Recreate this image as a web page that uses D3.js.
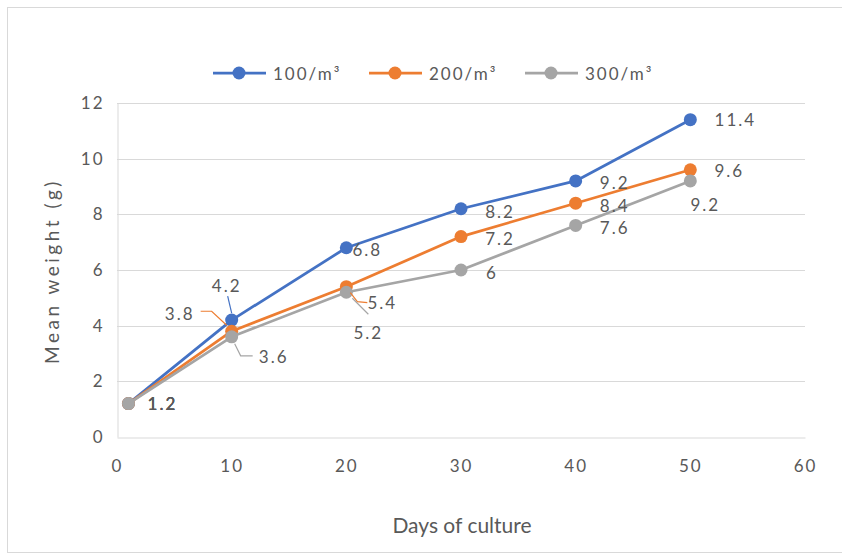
<!DOCTYPE html>
<html>
<head>
<meta charset="utf-8">
<script src="https://cdn.jsdelivr.net/npm/d3@7"></script>
<style>
  html, body { margin: 0; padding: 0; background: #fff; }
  svg { display: block; font-family: Lato, "Open Sans", sans-serif; }
</style>
</head>
<body>
<svg id="chart" width="842" height="555"></svg>
<script>
// ---- data ----
const days = [1, 10, 20, 30, 40, 50];
const seriesNames = ["100/m³", "200/m³", "300/m³"];
const s100 = [1.2, 4.2, 6.8, 8.2, 9.2, 11.4];
const s200 = [1.2, 3.8, 5.4, 7.2, 8.4, 9.6];
const s300 = [1.2, 3.6, 5.2, 6, 7.6, 9.2];
const xTicks = [0, 10, 20, 30, 40, 50, 60];
const yTicks = [0, 2, 4, 6, 8, 10, 12];
const xTitle = "Days of culture";
const yTitle = "Mean weight (g)";

// ---- styles / layout ----
const colors = ["#4472C4", "#ED7D31", "#A5A5A5"];
// label offsets (px, relative to the point) and optional leader polylines
const labelLayout = [
  [ {dx:34,dy:0}, {dx:-5,dy:-35, leader:[[-4,-24],[0,-7]]}, {dx:21,dy:2}, {dx:39,dy:3}, {dx:39,dy:2}, {dx:45,dy:0} ],
  [ {dx:34,dy:0}, {dx:-52,dy:-18, leader:[[-31,-20],[-20,-20],[-5,-6]]}, {dx:36,dy:16, leader:[[21,16],[11,15],[4,6]]}, {dx:39,dy:2}, {dx:39,dy:2}, {dx:39,dy:1} ],
  [ {dx:34,dy:0}, {dx:42,dy:20, leader:[[21,19],[9,19],[3,7]]}, {dx:22,dy:40, leader:[[22,22],[6,6]]}, {dx:31,dy:2}, {dx:39,dy:2}, {dx:15,dy:24} ]
];
const labelSpacing = 2;

const svg = d3.select("#chart");
const x = d3.scaleLinear().domain([0, 60]).range([117, 805]);
const y = d3.scaleLinear().domain([0, 12]).range([437, 103]);
const textColor = "#595959";

// outer frame
svg.append("rect").attr("x", 7.5).attr("y", 7.5).attr("width", 850).attr("height", 545)
  .attr("fill", "none").attr("stroke", "#d9d9d9").attr("stroke-width", 1);

// gridlines
svg.append("g").selectAll("line").data(yTicks.filter(d => d > 0)).join("line")
  .attr("x1", x(0)).attr("x2", x(60))
  .attr("y1", d => Math.round(y(d)) + 0.5).attr("y2", d => Math.round(y(d)) + 0.5)
  .attr("stroke", "#d9d9d9").attr("stroke-width", 1);

// axes
const xAxis = svg.append("g").attr("transform", `translate(0,${Math.round(y(0)) + 0.5})`)
  .call(d3.axisBottom(x).tickValues(xTicks).tickSize(0).tickPadding(22).tickFormat(d3.format("d")));
const yAxis = svg.append("g").attr("transform", `translate(${Math.round(x(0)) + 0.5},0)`)
  .call(d3.axisLeft(y).tickValues(yTicks).tickSize(0).tickPadding(13).tickFormat(d3.format("d")));
[xAxis, yAxis].forEach(g => {
  g.select(".domain").attr("stroke", "#d9d9d9");
  g.selectAll("text").attr("fill", textColor).attr("font-size", 17)
    .attr("letter-spacing", labelSpacing).attr("font-family", "Lato, sans-serif");
});

// axis titles
svg.append("text").attr("x", 462).attr("y", 533).attr("text-anchor", "middle")
  .attr("font-size", 21).attr("fill", textColor).text(xTitle);
svg.append("text").attr("transform", "translate(59,271) rotate(-90)").attr("text-anchor", "middle")
  .attr("font-size", 19).attr("letter-spacing", 3.5).attr("fill", textColor).text(yTitle);

// series
const allSeries = [s100, s200, s300];
const line = d3.line().x(d => x(d[0])).y(d => y(d[1]));
allSeries.forEach((vals, i) => {
  const pts = days.map((d, j) => [d, vals[j]]);
  svg.append("path").datum(pts).attr("d", line)
    .attr("fill", "none").attr("stroke", colors[i]).attr("stroke-width", 2.75).attr("stroke-linejoin", "round");
  svg.append("g").selectAll("circle").data(pts).join("circle")
    .attr("cx", d => x(d[0])).attr("cy", d => y(d[1])).attr("r", 6.5)
    .attr("fill", colors[i]);
});

// data labels and leaders
allSeries.forEach((vals, i) => {
  const g = svg.append("g");
  days.forEach((d, j) => {
    const px = x(d), py = y(vals[j]);
    const lay = labelLayout[i][j];
    if (lay.leader) {
      g.append("path")
        .attr("d", d3.line()(lay.leader.map(p => [px + p[0], py + p[1]])))
        .attr("fill", "none").attr("stroke", colors[i]).attr("stroke-width", 1.2);
    }
    g.append("text").attr("x", px + lay.dx).attr("y", py + lay.dy)
      .attr("text-anchor", "middle").attr("dominant-baseline", "central")
      .attr("letter-spacing", labelSpacing)
      .attr("font-size", 17).attr("fill", textColor).text(vals[j]);
  });
});

// legend
const legendX = [213, 369, 525];
const legendY = 73;
seriesNames.forEach((name, i) => {
  const lg = svg.append("g");
  lg.append("line").attr("x1", legendX[i]).attr("x2", legendX[i] + 53)
    .attr("y1", legendY).attr("y2", legendY).attr("stroke", colors[i]).attr("stroke-width", 2.75);
  lg.append("circle").attr("cx", legendX[i] + 26).attr("cy", legendY).attr("r", 6.5).attr("fill", colors[i]);
  lg.append("text").attr("x", legendX[i] + 60).attr("y", legendY).attr("dominant-baseline", "central")
    .attr("letter-spacing", labelSpacing)
    .attr("font-size", 17).attr("fill", textColor).text(name);
});
</script>
</body>
</html>
